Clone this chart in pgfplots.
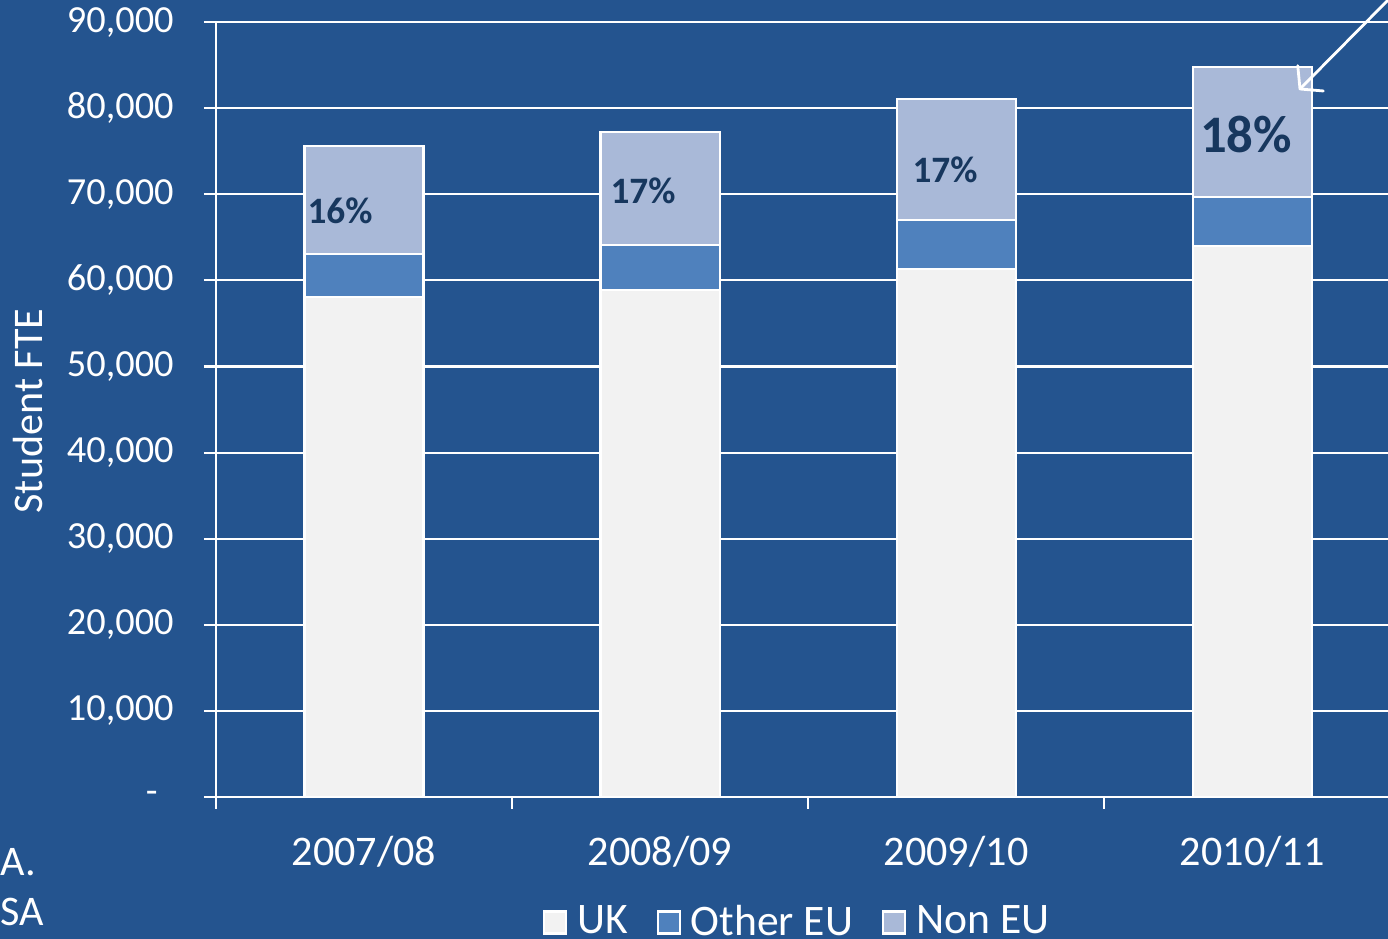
\documentclass[border=0pt]{standalone}
\usepackage{pgfplots}
\pgfplotsset{compat=1.18}
\usepackage{fontspec}
\setmainfont{Carlito}
\usetikzlibrary{arrows.meta}
\definecolor{bg}{HTML}{24548F}
\definecolor{ukc}{HTML}{F2F2F2}
\definecolor{euc}{HTML}{4F81BD}
\definecolor{nonc}{HTML}{A9B9D8}
\definecolor{labc}{HTML}{17375E}
\begin{document}
\begin{tikzpicture}
\fill[bg] (0,0) rectangle (13.88,9.39);
\useasboundingbox (0,0) rectangle (13.88,9.39);
\begin{axis}[
  at={(2.16cm,1.42cm)}, anchor=south west,
  scale only axis, width=11.72cm, height=7.75cm,
  xmin=-0.5, xmax=3.459, ymin=0, ymax=90000,
  ybar stacked, bar width=1.19cm,
  axis lines*=left,
  axis line style={white, line width=0.6pt},
  tick align=outside,
  major tick length=0.12cm,
  tick style={white, line width=0.6pt},
  ymajorgrids, grid style={white, line width=0.6pt},
  ytick={0,10000,20000,30000,40000,50000,60000,70000,80000,90000},
  yticklabels={{-\hspace*{0.16cm}},{10,000},{20,000},{30,000},{40,000},{50,000},{60,000},{70,000},{80,000},{90,000}},
  /pgf/number format/assume math mode=true,
  yticklabel style={text=white, font=\fontsize{10.9}{12}\selectfont, xshift=-0.18cm},
  xtick={-0.5,0.5,1.5,2.5},
  xticklabels={},
  extra x ticks={0,1,2,3},
  extra x tick labels={2007/08,2008/09,2009/10,2010/11},
  extra x tick style={major tick length=0pt, grid=none, tick label style={text=white, font=\fontsize{12}{14}\selectfont, yshift=-0.27cm}},
  ylabel={Student FTE},
  ylabel style={text=white, font=\fontsize{12}{14}\selectfont, at={(axis description cs:-0.1604,0.498)}, anchor=center},
  legend style={draw=none, fill=none, text=white, font=\fontsize{12.4}{14}\selectfont,
    legend columns=-1, at={(0.498,-0.162)}, anchor=center,
    /tikz/every odd column/.append style={column sep=0.03cm},
    /tikz/every even column/.append style={column sep=0.22cm}},
  legend image code/.code={\draw[#1, draw=white] (0cm,-0.11cm) rectangle (0.22cm,0.11cm);},
]
\addplot[fill=ukc, draw=white, line width=0.6pt] coordinates {(0,58100) (1,58900) (2,61300) (3,64000)};
\addplot[fill=euc, draw=white, line width=0.6pt] coordinates {(0,5000) (1,5200) (2,5700) (3,5700)};
\addplot[fill=nonc, draw=white, line width=0.6pt] coordinates {(0,12500) (1,13100) (2,14100) (3,15100)};
\legend{UK, Other EU, Non EU}
\end{axis}
\node[font=\bfseries\fontsize{10.6}{12}\selectfont, text=labc] at (3.40,7.28) {16\%};
\node[font=\bfseries\fontsize{10.6}{12}\selectfont, text=labc] at (6.43,7.48) {17\%};
\node[font=\bfseries\fontsize{10.6}{12}\selectfont, text=labc] at (9.45,7.69) {17\%};
\node[font=\bfseries\fontsize{15}{17}\selectfont, text=labc] at (12.46,8.04) {18\%};
\node[anchor=west, inner sep=0pt, text=white, font=\fontsize{12}{14}\selectfont] at (0,0.77) {A.};
\node[anchor=west, inner sep=0pt, text=white, font=\fontsize{12}{14}\selectfont] at (0,0.27) {SA};
\draw[white, line width=0.8pt, line cap=round, -{Straight Barb[length=1.5mm,width=3.6mm,round]}] (13.95,9.46) -- (12.99,8.49);
\end{tikzpicture}
\end{document}
